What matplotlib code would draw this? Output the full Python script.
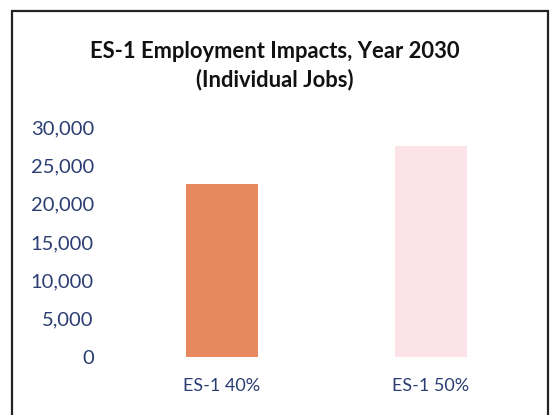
import matplotlib
matplotlib.use('Agg')
import matplotlib.pyplot as plt
from matplotlib.patches import Rectangle
from matplotlib.ticker import FuncFormatter

categories = ['ES-1 40%', 'ES-1 50%']
jobs = [22600, 27500]
bar_colors = ['#e8885f', '#fbe3e8']
yticks = [0, 5000, 10000, 15000, 20000, 25000, 30000]

plt.rcParams['font.family'] = ['Lato', 'DejaVu Sans']

fig = plt.figure(figsize=(5.5, 4.15), dpi=100)
fig.patch.set_facecolor('white')

# chart frame (open at the bottom, cropped)
fig.patches.append(Rectangle((12 / 550, -0.05), 536 / 550, 1.05 - 11 / 415,
                             transform=fig.transFigure, fill=False,
                             edgecolor='#222222', linewidth=1.6))

ax = fig.add_axes([117.5 / 550, 58 / 415, 418 / 550, 230 / 415])
x = range(len(categories))
ax.bar(x, jobs, width=0.34, color=bar_colors)
ax.set_xlim(-0.5, 1.5)
ax.set_ylim(0, 30000)
ax.set_yticks(yticks)
ax.yaxis.set_major_formatter(FuncFormatter(lambda v, p: f'{int(v):,}'))
ax.set_xticks(list(x))
ax.set_xticklabels(categories)
for s in ax.spines.values():
    s.set_visible(False)
ax.tick_params(axis='both', length=0, labelcolor='#2b3d72')
ax.tick_params(axis='y', pad=17, labelsize=14.5)
ax.tick_params(axis='x', pad=15, labelsize=13)

fig.text(0.5, 1 - 52 / 415, 'ES-1 Employment Impacts, Year 2030', ha='center',
         va='center', fontsize=15.8, fontweight='bold', color='#111111')
fig.text(0.5, 1 - 80 / 415, '(Individual Jobs)', ha='center', va='center',
         fontsize=15.8, fontweight='bold', color='#111111')

plt.savefig('out.png', dpi=100)
plt.close()
